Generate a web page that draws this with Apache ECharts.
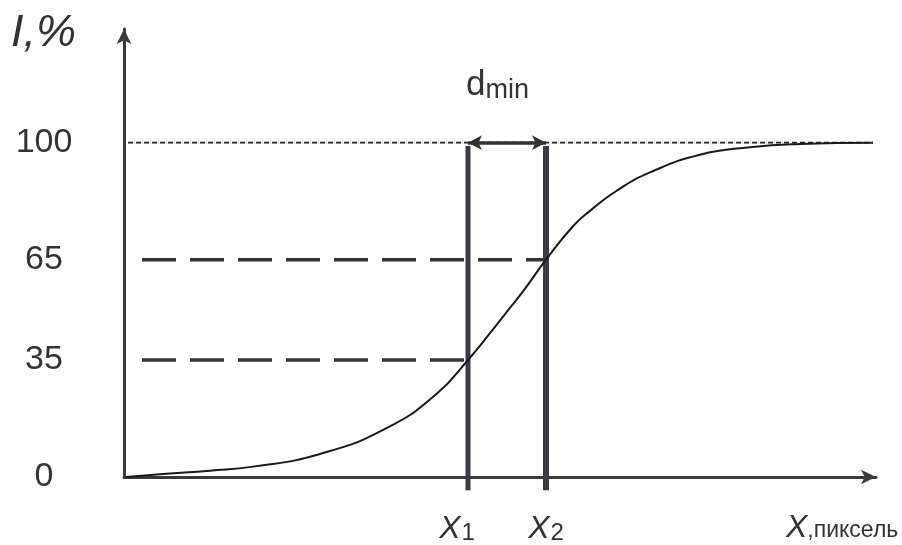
<!DOCTYPE html>
<html>
<head>
<meta charset="utf-8">
<script src="https://cdn.jsdelivr.net/npm/echarts@6/dist/echarts.min.js"></script>
<style>
  html, body { margin: 0; padding: 0; background: #fff; }
  #main { width: 902px; height: 545px; }
</style>
</head>
<body>
<div id="main"></div>
<script>
// уровни интенсивности (%) и точки x1, x2 (пиксель)
var levels = [0, 35, 65, 100];
var markerX = [344, 422];
var markerNames = ['1', '2'];

// кривая I(x)
var curveX = [2, 39, 86, 129, 196, 263, 313, 344, 366, 383, 399, 422, 449, 466, 493, 526, 576, 626, 676, 749];
var curveY = [0, 0.9, 1.9, 3.1, 6.9, 14.7, 25, 35, 43, 49.5, 55.5, 65, 75, 79.6, 85.7, 91.1, 96.4, 98.6, 99.6, 100];

var ink = '#333';
var font = '"Liberation Sans", Arial, sans-serif';

var chart = echarts.init(document.getElementById('main'));

function hLine(level, xEnd, style) {
  return {
    type: 'line',
    data: [[4, level], [xEnd, level]],
    symbol: 'none',
    silent: true,
    lineStyle: style,
    z: 1
  };
}

function vLine(x, width) {
  return {
    type: 'line',
    data: [[x, -4], [x, 99]],
    symbol: 'none',
    silent: true,
    clip: false,
    lineStyle: { color: '#3a3a46', width: width },
    z: 3
  };
}

var dashStyle = { color: ink, width: 3.5, type: [34, 14], dashOffset: 34 };

var series = [
  {
    type: 'line',
    data: curveX.map(function (x, i) { return [x, curveY[i]]; }),
    smooth: true,
    symbol: 'none',
    lineStyle: { color: '#1a1a1a', width: 2 },
    z: 4,
    markLine: {
      silent: true,
      symbol: ['arrow', 'arrow'],
      symbolSize: [11, 14],
      label: { show: false },
      lineStyle: { color: ink, width: 3.5, type: 'solid' },
      data: [[{ coord: [markerX[0], levels[3]] }, { coord: [markerX[1], levels[3]] }]]
    }
  },
  hLine(levels[3], 749, { color: '#222', width: 1.8, type: [5, 3] }),
  hLine(levels[2], markerX[1], dashStyle),
  hLine(levels[1], markerX[0], dashStyle),
  vLine(markerX[0], 5),
  vLine(markerX[1], 6)
];

var option = {
  animation: false,
  backgroundColor: '#fff',
  grid: { left: 124, right: 26, top: 29, bottom: 68 },
  xAxis: {
    type: 'value',
    min: 0,
    max: 752,
    axisLine: {
      symbol: ['none', 'arrow'],
      symbolSize: [11, 15],
      lineStyle: { color: '#3a3a3a', width: 3 }
    },
    axisTick: { show: false },
    splitLine: { show: false },
    axisLabel: {
      customValues: markerX,
      margin: 36,
      formatter: function (v) {
        var n = markerNames[markerX.indexOf(v)];
        return '{x' + n + '|X}{s|' + n + '}';
      },
      rich: {
        x1: { fontFamily: font, fontSize: 32, fontStyle: 'italic', color: ink, padding: [0, 0, 0, -22] },
        x2: { fontFamily: font, fontSize: 32, fontStyle: 'italic', color: ink },
        s: { fontFamily: font, fontSize: 24, color: ink, padding: [8, 0, 0, 1] }
      }
    }
  },
  yAxis: {
    type: 'value',
    min: 0,
    max: 134,
    axisLine: {
      symbol: ['none', 'arrow'],
      symbolSize: [11, 15],
      lineStyle: { color: '#3a3a3a', width: 3 }
    },
    axisTick: { show: false },
    splitLine: { show: false },
    axisLabel: {
      customValues: levels,
      align: 'center',
      margin: 80,
      fontFamily: font,
      fontSize: 34,
      color: ink
    }
  },
  graphic: [
    {
      type: 'text',
      left: 11,
      top: 11,
      style: {
        text: 'I,%',
        fontFamily: font,
        fontSize: 45,
        fontStyle: 'italic',
        fill: ink
      }
    },
    {
      type: 'text',
      left: 466,
      top: 68,
      style: {
        text: '{d|d}{m|min}',
        rich: {
          d: { fontFamily: font, fontSize: 35, fill: ink },
          m: { fontFamily: font, fontSize: 27, fill: ink, padding: [10, 0, 0, 0] }
        }
      }
    },
    {
      type: 'text',
      left: 786,
      top: 512,
      style: {
        text: '{x|X}{p|,пиксель}',
        rich: {
          x: { fontFamily: font, fontSize: 32, fontStyle: 'italic', fill: ink },
          p: { fontFamily: font, fontSize: 23, fill: ink, padding: [6, 0, 0, 0] }
        }
      }
    }
  ],
  series: series
};

chart.setOption(option);
</script>
</body>
</html>
